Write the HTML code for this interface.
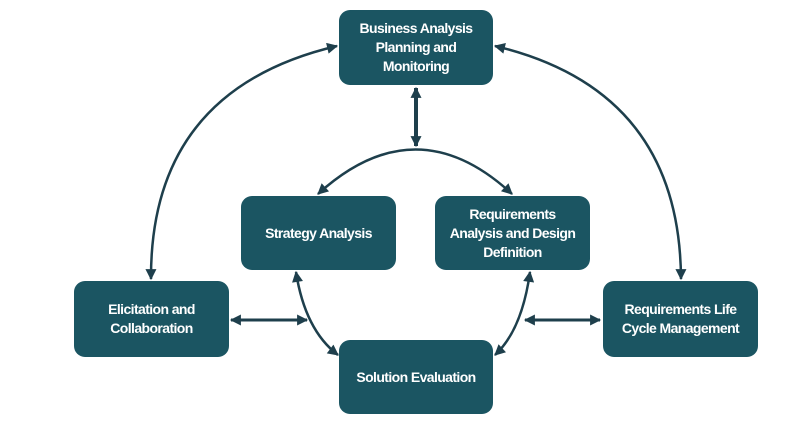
<!DOCTYPE html>
<html><head><style>
body{margin:0;background:#fff;width:785px;height:433px;overflow:hidden;position:relative;font-family:"Liberation Sans",sans-serif}
.b{position:absolute;background:#1b5562;border-radius:11px;color:#fff;font-weight:bold;font-size:14px;line-height:19px;display:flex;align-items:center;justify-content:center;text-align:center;letter-spacing:-0.6px}
svg{position:absolute;left:0;top:0}
</style></head><body>
<svg width="785" height="433">
<defs><marker id="a" viewBox="0 0 10 10" refX="9" refY="5" markerUnits="userSpaceOnUse" markerWidth="13" markerHeight="11" orient="auto-start-reverse"><path d="M0,0L10,5L0,10z" fill="#1e3f4c"/></marker></defs>
<g fill="none" stroke="#1e3f4c" stroke-width="2.5" marker-start="url(#a)" marker-end="url(#a)">
<path d="M151,279 Q150,90 337,46"/>
<path d="M495,46 Q680,90 681,279"/>
<path d="M416,88 L416,146" stroke-width="4"/>
<path d="M318,194 Q416,105 512,194"/>
<path d="M296,272 Q305,330 338,355"/>
<path d="M530,272 Q522,330 495,355"/>
<path d="M231,320 L307,320" stroke-width="3"/>
<path d="M525,320 L600,320" stroke-width="3"/>
</g>
</svg>
<div class="b" style="left:339px;top:10px;width:154px;height:75px">Business Analysis<br>Planning and<br>Monitoring</div>
<div class="b" style="left:241px;top:196px;width:155px;height:74px">Strategy Analysis</div>
<div class="b" style="left:435px;top:196px;width:155px;height:74px">Requirements<br>Analysis and Design<br>Definition</div>
<div class="b" style="left:74px;top:281px;width:155px;height:76px">Elicitation and<br>Collaboration</div>
<div class="b" style="left:339px;top:340px;width:154px;height:74px">Solution Evaluation</div>
<div class="b" style="left:603px;top:281px;width:155px;height:76px">Requirements Life<br>Cycle Management</div>
</body></html>
